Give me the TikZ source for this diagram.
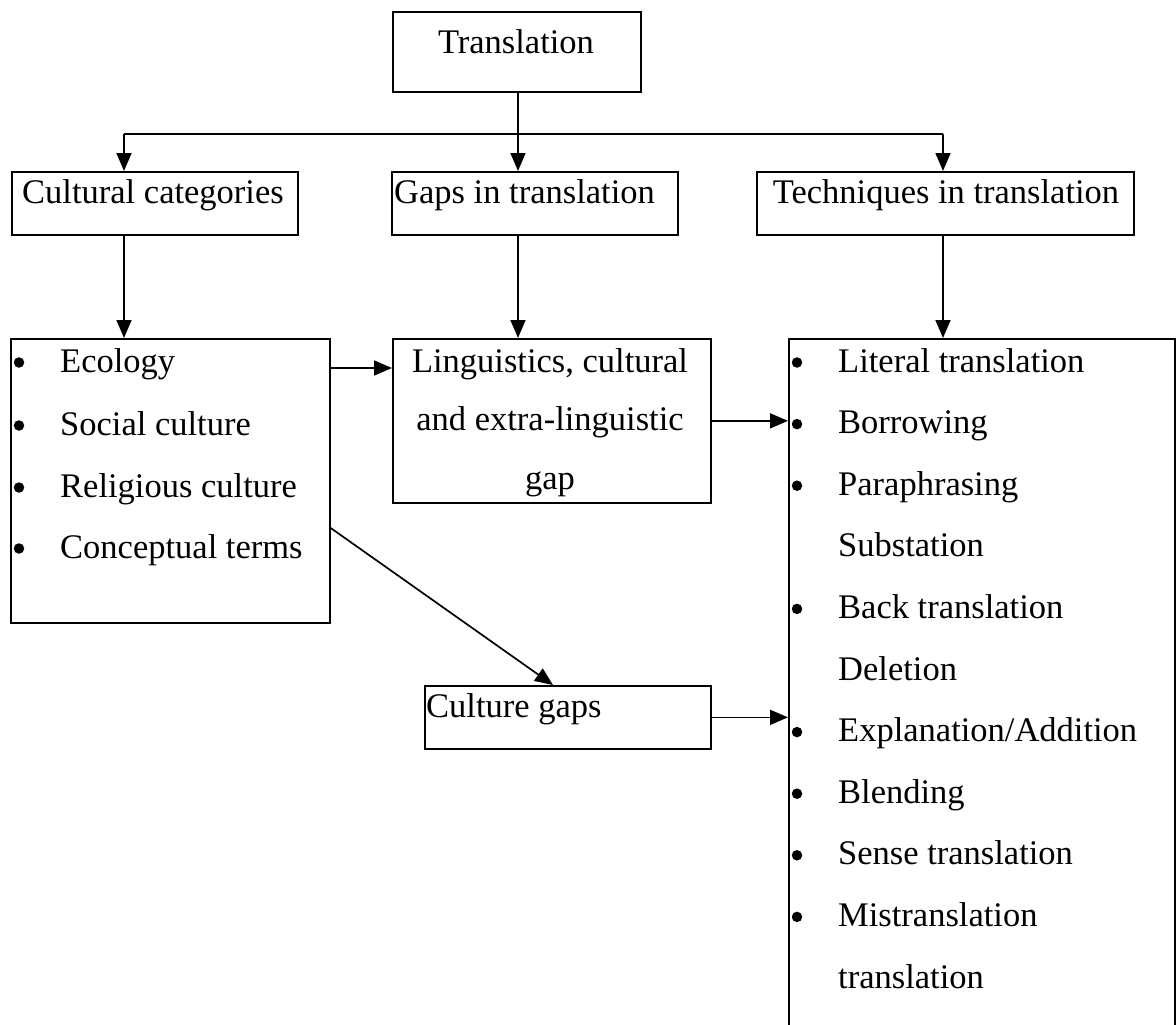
\documentclass[tikz,border=0pt]{standalone}
\usepackage{fontspec}
\setmainfont{Liberation Serif}
\usetikzlibrary{arrows.meta}
\begin{document}
\begin{tikzpicture}[x=1pt,y=-1pt,
  box/.style={draw, line width=1.7pt, rectangle, inner sep=0pt, anchor=north west},
  txt/.style={inner sep=0pt, font=\fontsize{34.5}{40}\selectfont},
  bul/.style={circle, fill, inner sep=0pt, minimum size=10.5pt},
  conn/.style={line width=1.7pt},
  arr/.style={line width=1.7pt, -{Triangle[length=18pt,width=15pt]}}]
\useasboundingbox (0,0) rectangle (1176,1025);
\clip (0,0) rectangle (1176,1025);
% boxes
\node[box, minimum width=248pt, minimum height=80pt] (trans) at (392,11) {};
\node[box, minimum width=286pt, minimum height=63pt] (cc) at (11,171) {};
\node[box, minimum width=286pt, minimum height=63pt] (gaps) at (391,171) {};
\node[box, minimum width=377pt, minimum height=63pt] (tech) at (756,171) {};
\node[box, minimum width=319pt, minimum height=284pt] (left) at (10,338) {};
\node[box, minimum width=318pt, minimum height=164pt] (ling) at (392,338) {};
\node[box, minimum width=286pt, minimum height=63pt] (cg) at (424,685) {};
\node[box, minimum width=386pt, minimum height=720pt] (right) at (788,338) {};
% texts
\node[txt, anchor=base] (tTrans) at (516,54) {Translation};
\node[txt, anchor=base] (tCC) at (153,203) {Cultural categories};
\node[txt, anchor=base west] (tGaps) at (394,203) {Gaps in translation};
\node[txt, anchor=base] (tTech) at (946,203) {Techniques in translation};
\node[txt, anchor=base] (tL1) at (550,372) {Linguistics, cultural};
\node[txt, anchor=base] (tL2) at (550,430) {and extra-linguistic};
\node[txt, anchor=base] (tL3) at (550,489) {gap};
\node[txt, anchor=base west] (tCG) at (426,717) {Culture gaps};
% left list
\foreach \t/\y [count=\i] in {Ecology/372, Social culture/435, Religious culture/497, Conceptual terms/558}{
  \node[bul] (lb\i) at (19,\y-9.5) {};
  \node[txt, anchor=base west] (lt\i) at (60,\y) {\t};
}
% right list
\foreach \t/\b [count=\i] in {Literal translation/1, Borrowing/1, Paraphrasing/1, Substation/0, Back translation/1, Deletion/0, Explanation\slash Addition/1, Blending/1, Sense translation/1, Mistranslation/1, translation/0}{
  \pgfmathsetmacro{\yy}{372+61.6*(\i-1)}
  \ifnum\b=1 \node[bul] (rb\i) at (797,\yy-9.5) {};\fi
  \node[txt, anchor=base west] (rt\i) at (838,\yy) {\t};
}
% connectors
\coordinate (j) at (518,134);
\coordinate (jl) at (124,134);
\coordinate (jr) at (943,134);
\coordinate (ya) at (0,368);
\coordinate (ds) at (0,528);
\coordinate (de) at (553,0);
\draw[conn] (trans.south -| j) -- (j);
\draw[conn] (jl) -- (jr);
\draw[arr] (jl) -- (jl |- cc.north);
\draw[arr] (j) -- (j |- gaps.north);
\draw[arr] (jr) -- (jr |- tech.north);
\draw[arr] (jl |- cc.south) -- (jl |- left.north);
\draw[arr] (j |- gaps.south) -- (j |- ling.north);
\draw[arr] (jr |- tech.south) -- (jr |- right.north);
\draw[arr] (left.east |- ya) -- (ling.west |- ya);
\draw[arr] (ling.east) -- (right.west |- ling.east);
\draw[arr] (cg.east) -- (right.west |- cg.east);
\draw[arr] (left.east |- ds) -- (cg.north -| de);
\end{tikzpicture}
\end{document}
